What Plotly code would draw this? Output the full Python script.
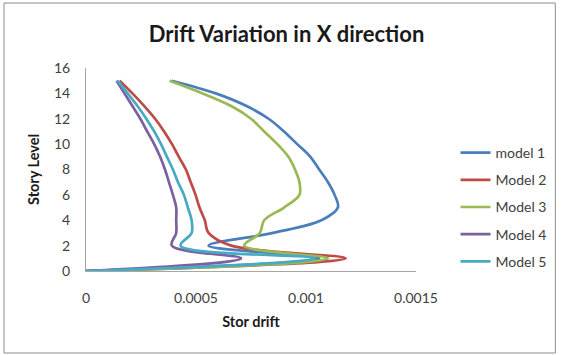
import plotly.graph_objects as go

story_levels = list(range(0, 16))

model_1 = [0, 0.00106, 0.000557, 0.00085, 0.00107, 0.001145, 0.00113, 0.0011, 0.00106, 0.00102,
           0.00096, 0.0009, 0.00083, 0.00073, 0.00059, 0.00039]
model_2 = [0, 0.00118, 0.00066, 0.000557, 0.00054, 0.000516, 0.000498, 0.000476, 0.000454, 0.000422,
           0.000391, 0.000355, 0.000314, 0.000265, 0.000211, 0.000153]
model_3 = [0, 0.0011, 0.00072, 0.00079, 0.00081, 0.0009, 0.00097, 0.00097, 0.00095, 0.00092,
           0.00087, 0.00081, 0.00075, 0.00066, 0.00053, 0.00038]
model_4 = [0, 0.000705, 0.00039, 0.00041, 0.00041, 0.00041, 0.000395, 0.000377, 0.000359, 0.000337,
           0.00031, 0.000278, 0.000247, 0.000211, 0.000175, 0.000139]
model_5 = [0, 0.00104, 0.00043, 0.00048, 0.00048, 0.000463, 0.000445, 0.000418, 0.000395, 0.000368,
           0.000341, 0.00031, 0.000274, 0.000234, 0.000189, 0.000144]

series_names = ["model 1", "Model 2", "Model 3", "Model 4", "Model 5"]
series_values = [model_1, model_2, model_3, model_4, model_5]
series_colors = ["#4A7EBB", "#BE4B48", "#98B954", "#7D60A0", "#46AAC5"]

x_tickvals = [0, 0.0005, 0.001, 0.0015]
x_ticktext = ["0", "0.0005", "0.001", "0.0015"]
y_tickvals = list(range(0, 17, 2))

FONT = "Lato"

fig = go.Figure()
for i, (name, vals, col) in enumerate(zip(series_names, series_values, series_colors)):
    fig.add_trace(go.Scatter(
        x=vals, y=story_levels, name=name, mode="lines",
        line=dict(color=col, width=2.7, shape="spline", smoothing=1.0),
        legendgroup=f"g{i}",
    ))

W, H = 564, 355
L, R, T, B = 86, 144, 68, 84
pw, ph = W - L - R, H - T - B

def px_to_paper_x(px):
    return (px - L) / pw

def py_to_paper_y(py):
    return (H - B - py) / ph

fig.update_layout(
    width=W, height=H,
    margin=dict(l=L, r=R, t=T, b=B),
    paper_bgcolor="white", plot_bgcolor="white",
    font=dict(family=FONT, size=14, color="#404040"),
    title=dict(text="<b>Drift Variation in X direction</b>",
               font=dict(family=FONT, size=22, color="#1a1a1a"),
               x=px_to_paper_x(289), xref="paper", xanchor="center",
               y=1 - 34 / H, yanchor="middle"),
    showlegend=True,
    legend=dict(
        x=px_to_paper_x(460), xanchor="left",
        y=py_to_paper_y(137), yanchor="top",
        font=dict(family=FONT, size=14, color="#404040"),
        tracegroupgap=6, bgcolor="rgba(0,0,0,0)",
        itemwidth=30,
    ),
    xaxis=dict(
        range=[0, 0.0015], tickvals=x_tickvals, ticktext=x_ticktext,
        showgrid=False, zeroline=False, showline=True, linecolor="#A6A6A6", linewidth=1,
        ticks="outside", ticklen=14, tickcolor="rgba(0,0,0,0)",
        tickfont=dict(family=FONT, size=14, color="#404040"),
        title=dict(text="<b>Stor drift</b>", font=dict(family=FONT, size=14.5, color="#1a1a1a"), standoff=12),
    ),
    yaxis=dict(
        range=[0, 16], tickvals=y_tickvals,
        showgrid=False, zeroline=False, showline=True, linecolor="#A6A6A6", linewidth=1,
        ticks="outside", ticklen=12, tickcolor="rgba(0,0,0,0)",
        tickfont=dict(family=FONT, size=14, color="#404040"),
        title=dict(text="<b>Story Level</b>", font=dict(family=FONT, size=14.5, color="#1a1a1a"), standoff=10),
    ),
    shapes=[dict(type="rect", xref="paper", yref="paper",
                 x0=px_to_paper_x(3), x1=px_to_paper_x(561),
                 y0=py_to_paper_y(353), y1=py_to_paper_y(3),
                 line=dict(color="#8C8C8C", width=1), fillcolor="rgba(0,0,0,0)", layer="below")],
)

fig.write_html("out.html")
